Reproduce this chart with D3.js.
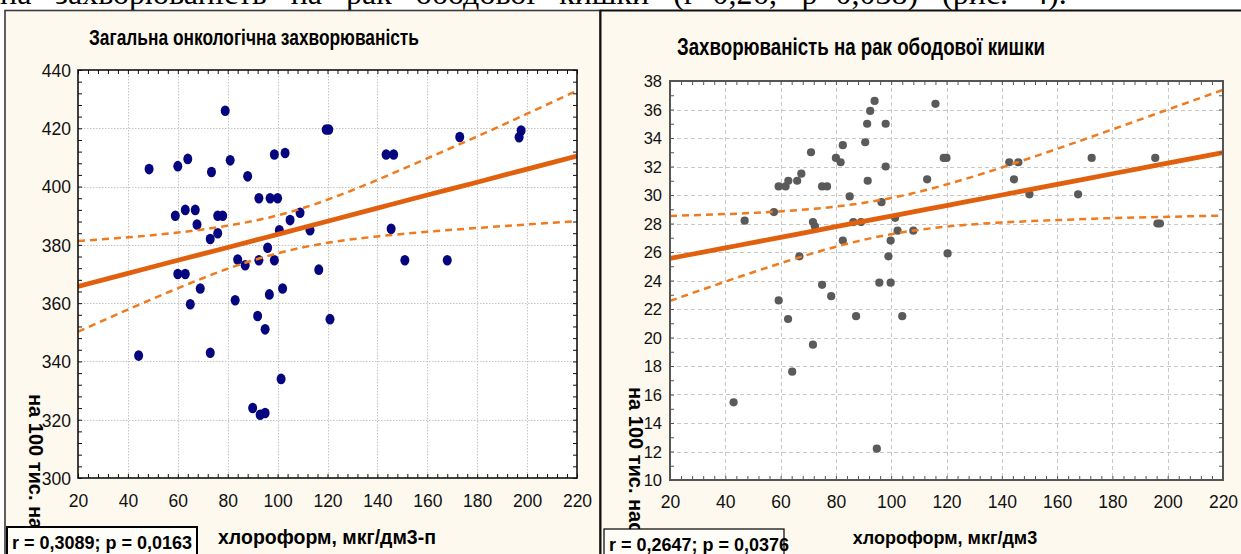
<!DOCTYPE html>
<html><head><meta charset="utf-8">
<script src="https://cdn.jsdelivr.net/npm/d3@7"></script>
<style>body{margin:0;background:#fff;overflow:hidden} svg{display:block}</style>
</head><body><svg id="c" width="1241" height="554"></svg>
<script>
// ---- data: left panel (загальна онкологічна захворюваність) ----
const leftX = [48.5,60,64,79,73.5,81,88,98.7,103,59,63,67,67.7,73,76,76,78,92.5,97,100,105,109,100.7,113,60,63,69,65,84,87,83,92.5,96,98.7,96.7,102,92,116.5,119.5,120.5,143.5,146.5,173,197.6,196.8,145.5,151,168,121,44.3,73,95,101.4,90,93,95];
const leftY = [406,407,409.5,426,405,409,403.5,411,411.5,390,392,392,387,382,384,390,390,396,396,396,388.5,391,385,385,370,370,365,359.6,375,373,361,374.7,379,374.7,363,365,355.6,371.5,419.6,419.6,411,411,417,419.2,416.9,385.5,374.7,374.7,354.5,342,343,351,334,324,321.7,322.3];
// ---- data: right panel (рак ободової кишки) ----
const rightX = [43,47,57.6,59.3,61.8,62.8,66,67.5,71,71.7,72.4,66.8,75,76.8,80,81.7,82.5,85,86.3,89.1,82.5,75,78.3,59.3,62.7,87.3,104,90.6,91.3,92.4,94,98,91.5,98,96.5,101.4,102.3,108,99.8,99,95.7,99.8,113,116,119,120,120.4,142.7,146,144.4,150,172.5,167.6,195.5,196.3,197.2,71.7,64.2,94.8];
const rightY = [15.45,28.2,28.8,30.6,30.6,31.0,31,31.5,33,28.1,27.8,25.7,30.6,30.6,32.6,32.3,33.5,29.9,28.1,28.1,26.8,23.7,22.9,22.6,21.3,21.5,21.5,33.7,35,35.9,36.6,35,31,32,29.5,28.4,27.5,27.5,26.8,25.7,23.85,23.85,31.1,36.4,32.6,32.6,25.9,32.3,32.3,31.1,30.05,32.6,30.05,32.6,28,28,19.5,17.6,12.2];
// ---- fitted line and 95% bands ----
const fitX = [20,40,60,80,100,120,140,160,180,200,220];
const leftFit = [365.7,370.2,374.7,379.1,383.6,388.1,392.6,397.1,401.5,406.0,410.5];
const leftUpper = [381.3,382.6,384.2,386.6,390.1,395.5,402.3,409.7,417.2,425.0,432.9];
const leftLower = [350.2,357.8,365.1,371.8,377.1,380.7,382.9,384.5,385.8,387.0,388.1];
const rightFit = [25.55,26.29,27.03,27.78,28.52,29.26,30.00,30.74,31.49,32.23,32.97];
const rightUpper = [28.53,28.66,28.85,29.19,29.79,30.74,31.93,33.24,34.60,35.99,37.38];
const rightLower = [22.57,23.92,25.21,26.37,27.25,27.78,28.07,28.24,28.38,28.47,28.56];
// ---- ticks ----
const xTicks = [20,40,60,80,100,120,140,160,180,200,220];
const leftYTicks = [300,320,340,360,380,400,420,440];
const rightYTicks = [10,12,14,16,18,20,22,24,26,28,30,32,34,36,38];
// ---- texts ----
const topText = "на захворюваність на рак ободової кишки (r=0,26; p=0,038) (рис. 4).";
const leftTitle = "Загальна онкологічна захворюваність";
const rightTitle = "Захворюваність на рак ободової кишки";
const leftXLabel = "хлороформ, мкг/дм3-п";
const rightXLabel = "хлороформ, мкг/дм3";
const yLabel = "на 100 тис. населення";
const leftStat = "r = 0,3089; p = 0,0163";
const rightStat = "r = 0,2647; p = 0,0376";

const svg = d3.select("#c");
const SANS = "'Liberation Sans',Arial,sans-serif";

// top running text (cut off at the top edge)
svg.append("text").attr("x",0).attr("y",3.5).attr("font-family","'Liberation Serif','Times New Roman',serif")
  .attr("font-size",32).attr("word-spacing",16).attr("fill","#000").text(topText);

// panels
svg.append("rect").attr("x",5).attr("y",10.5).attr("width",595).attr("height",600)
  .attr("fill","#fef9ee").attr("stroke","#3a3a3a").attr("stroke-width",1.6);
svg.append("rect").attr("x",600.5).attr("y",10.5).attr("width",700).attr("height",600)
  .attr("fill","#fef9ee").attr("stroke","#111").attr("stroke-width",2);

function panel(o){
  const g = svg.append("g");
  const x = d3.scaleLinear().domain([20,220]).range([o.l,o.r]);
  const y = d3.scaleLinear().domain(o.yDom).range([o.b,o.t]);
  g.append("rect").attr("x",o.l).attr("y",o.t).attr("width",o.r-o.l).attr("height",o.b-o.t).attr("fill","#fff");
  // grid
  const grid = g.append("g").attr("stroke",o.gridColor).attr("stroke-width",1).attr("stroke-dasharray",o.gridDash);
  grid.selectAll(".gx").data(xTicks.slice(1,-1)).join("line")
    .attr("x1",d=>Math.round(x(d))+0.5).attr("x2",d=>Math.round(x(d))+0.5).attr("y1",o.t).attr("y2",o.b);
  grid.selectAll(".gy").data(o.yTicks.slice(1,-1)).join("line")
    .attr("y1",d=>Math.round(y(d))+0.5).attr("y2",d=>Math.round(y(d))+0.5).attr("x1",o.l).attr("x2",o.r);
  // clip
  const cid = "clip"+o.id;
  svg.append("clipPath").attr("id",cid).append("rect").attr("x",o.l).attr("y",o.t).attr("width",o.r-o.l).attr("height",o.b-o.t);
  const pg = g.append("g").attr("clip-path",`url(#${cid})`);
  // points
  const pts = o.xs.map((d,i)=>[d,o.ys[i]]);
  if(o.ellipse){
    pg.selectAll(".pt").data(pts).join("ellipse")
      .attr("cx",d=>x(d[0])).attr("cy",d=>y(d[1])).attr("rx",4.5).attr("ry",5.3).attr("fill",o.ptColor);
  } else {
    pg.selectAll(".pt").data(pts).join("circle")
      .attr("cx",d=>x(d[0])).attr("cy",d=>y(d[1])).attr("r",4.1).attr("fill",o.ptColor);
  }
  // regression + bands
  const line = d3.line().x(d=>x(d[0])).y(d=>y(d[1])).curve(d3.curveNatural);
  const toPts = arr => fitX.map((v,i)=>[v,arr[i]]);
  [o.up,o.lo].forEach(arr=>{
    pg.append("path").attr("d",line(toPts(arr))).attr("fill","none")
      .attr("stroke","#f07a1c").attr("stroke-width",2.5).attr("stroke-dasharray","7,5");
  });
  pg.append("path").attr("d",line(toPts(o.fit))).attr("fill","none")
    .attr("stroke","#e0600e").attr("stroke-width",4.8);
  // axes (inward ticks)
  const minorX = d3.range(20,220.01,4);
  const minorY = d3.range(o.yDom[0],o.yDom[1]+0.01,o.yMinor);
  const ax = g.append("g").attr("color",o.axisColor);
  const mk = (sel,axis)=>{ sel.call(axis); sel.select(".domain").remove(); sel.selectAll("text").remove(); };
  mk(ax.append("g").attr("transform",`translate(0,${o.b})`), d3.axisBottom(x).tickValues(minorX).tickSize(-4));
  mk(ax.append("g").attr("transform",`translate(0,${o.t})`), d3.axisTop(x).tickValues(minorX).tickSize(-4));
  mk(ax.append("g").attr("transform",`translate(${o.l},0)`), d3.axisLeft(y).tickValues(minorY).tickSize(-4));
  mk(ax.append("g").attr("transform",`translate(${o.r},0)`), d3.axisRight(y).tickValues(minorY).tickSize(-4));
  g.append("rect").attr("x",o.l).attr("y",o.t).attr("width",o.r-o.l).attr("height",o.b-o.t)
    .attr("fill","none").attr("stroke",o.axisColor).attr("stroke-width",o.frameW);
  // labels
  const xl = g.append("g").attr("transform",`translate(0,${o.b})`).call(d3.axisBottom(x).tickValues(xTicks).tickSize(0));
  xl.select(".domain").remove();
  xl.selectAll("text").attr("y",o.xLabY).attr("dy",0).attr("font-family",SANS).attr("font-size",o.xFs).attr("fill","#111");
  const yl = g.append("g").attr("transform",`translate(${o.l},0)`).call(d3.axisLeft(y).tickValues(o.yTicks).tickSize(0));
  yl.select(".domain").remove();
  yl.selectAll("text").attr("x",-o.yLabGap).attr("dy","0.36em").attr("font-family",SANS).attr("font-size",o.yFs).attr("fill","#111");
  // title (condensed bold)
  svg.append("text").attr("x",o.titleX).attr("y",o.titleY).attr("text-anchor","middle")
    .attr("font-family",SANS).attr("font-weight","bold").attr("font-size",o.titleFs)
    .attr("textLength",o.titleW).attr("lengthAdjust","spacingAndGlyphs").attr("fill","#000").text(o.title);
  // x label
  svg.append("text").attr("x",o.xlabX).attr("y",544).attr("text-anchor","middle")
    .attr("font-family",SANS).attr("font-weight","bold").attr("font-size",o.xlabFs).attr("fill","#000").text(o.xlab);
  // y label (rotated, reads top to bottom)
  svg.append("text").attr("transform",`translate(${o.ylabX},${o.ylabY}) rotate(90)`)
    .attr("font-family",SANS).attr("font-weight","bold").attr("font-size",20).attr("fill","#000").text(yLabel);
  // stat box
  svg.append("rect").attr("x",o.boxX).attr("y",o.boxY).attr("width",o.boxW).attr("height",50)
    .attr("fill","#fffdf8").attr("stroke","#000").attr("stroke-width",o.boxSW);
  svg.append("text").attr("x",o.boxX+5).attr("y",o.boxY+22).attr("font-family",SANS).attr("font-weight","bold")
    .attr("font-size",18).attr("fill","#000").text(o.stat);
}

panel({id:"L", l:78, r:577, t:70, b:478, yDom:[300,440], yTicks:leftYTicks, yMinor:4,
  xs:leftX, ys:leftY, fit:leftFit, up:leftUpper, lo:leftLower, ellipse:true, ptColor:"#05057f",
  gridColor:"#c4c4c4", gridDash:"1.5,1.5",
  axisColor:"#111", frameW:1.6, xLabY:29, xFs:17.5, yLabGap:7, yFs:17.5,
  title:leftTitle, titleX:254, titleY:44.5, titleFs:22.5, titleW:330, xlab:leftXLabel, xlabX:327, xlabFs:19.5,
  ylabX:28.5, ylabY:394, boxX:7, boxY:527, boxW:190, boxSW:2, stat:leftStat});
panel({id:"R", l:670, r:1223, t:81, b:480, yDom:[10,38], yTicks:rightYTicks, yMinor:1,
  xs:rightX, ys:rightY, fit:rightFit, up:rightUpper, lo:rightLower, ellipse:false, ptColor:"#5a5a5a",
  gridColor:"#c8c8c8", gridDash:"4,3",
  axisColor:"#555", frameW:2, xLabY:28, xFs:17.5, yLabGap:8, yFs:16.5,
  title:rightTitle, titleX:861, titleY:54.5, titleFs:23.5, titleW:368, xlab:rightXLabel, xlabX:945, xlabFs:18,
  ylabX:628.5, ylabY:387, boxX:604, boxY:529, boxW:180, boxSW:1.2, stat:rightStat});
</script></body></html>
